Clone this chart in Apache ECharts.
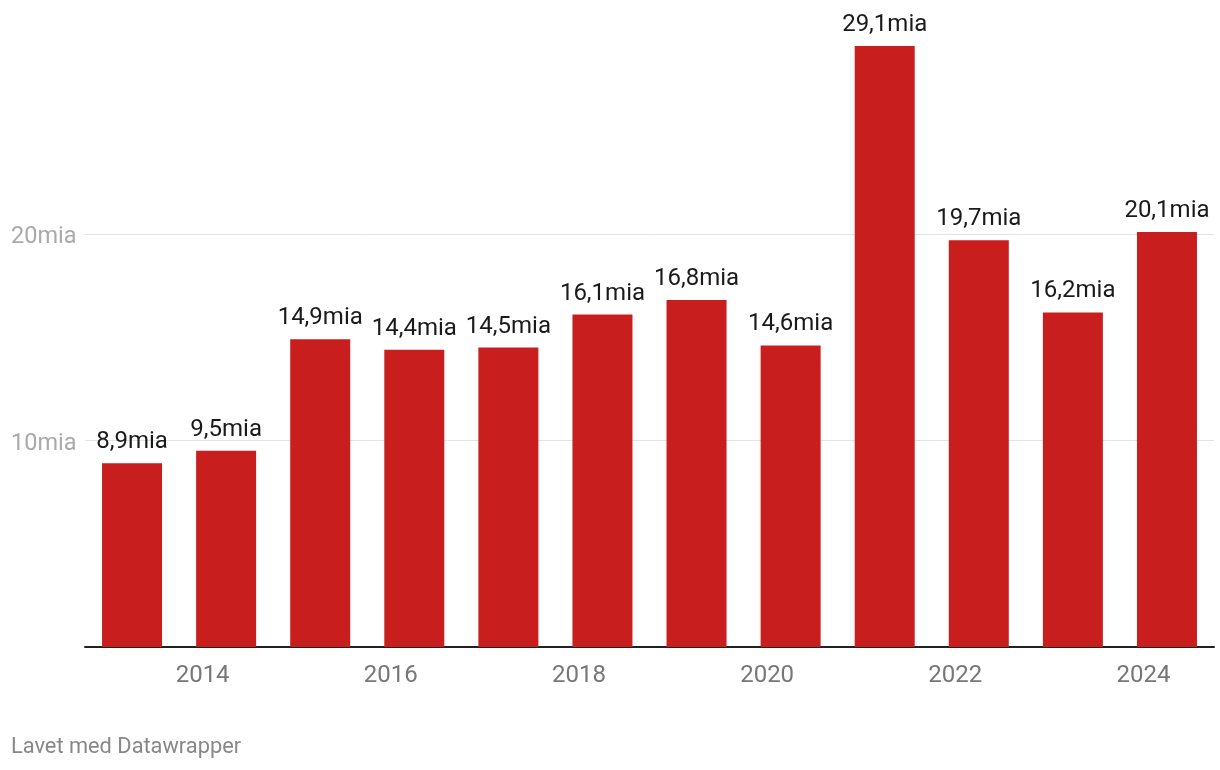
<!DOCTYPE html>
<html>
<head>
<meta charset="utf-8">
<script src="https://cdn.jsdelivr.net/npm/echarts@6/dist/echarts.min.js"></script>
<style>
  html, body { margin: 0; padding: 0; background: #ffffff; }
  #chart { width: 1220px; height: 770px; }
</style>
</head>
<body>
<div id="chart"></div>
<script>
const years = ['2013','2014','2015','2016','2017','2018','2019','2020','2021','2022','2023','2024'];
const values = [8.9, 9.5, 14.9, 14.4, 14.5, 16.1, 16.8, 14.6, 29.1, 19.7, 16.2, 20.1];
const yTicks = [0, 10, 20];
const footer = 'Lavet med Datawrapper';

const fmt = v => String(v).replace('.', ',') + 'mia';

const chart = echarts.init(document.getElementById('chart'), null, { renderer: 'canvas' });
chart.setOption({
  backgroundColor: '#ffffff',
  animation: false,
  textStyle: { fontFamily: 'Roboto' },
  graphic: [{
    type: 'text', left: 11, top: 737,
    style: { text: footer, fontFamily: 'Roboto', fontSize: 21.8, fill: '#888888' }
  }],
  grid: { left: 85, right: 6, top: 37.8, bottom: 123, containLabel: false },
  xAxis: {
    type: 'category',
    data: years,
    boundaryGap: true,
    axisLine: { show: true, lineStyle: { color: '#222222', width: 2 } },
    axisTick: { show: false },
    splitLine: { show: false },
    axisLabel: {
      interval: (i) => i % 2 === 1,
      color: '#777777',
      fontFamily: 'Roboto',
      fontSize: 24,
      margin: 17,
      padding: [0, 47, 0, 0]
    }
  },
  yAxis: {
    type: 'value',
    min: 0,
    max: 29.5,
    interval: 10,
    axisLine: { show: false },
    axisTick: { show: false },
    splitLine: { show: true, showMaxLine: false, lineStyle: { color: '#e3e3e3', width: 1 } },
    axisLabel: {
      align: 'left',
      margin: 74,
      color: '#aaaaaa',
      fontFamily: 'Roboto',
      fontSize: 23.5,
      showMaxLabel: false,
      formatter: v => yTicks.includes(v) && v !== 0 ? '{a|' + v + 'mia}' : '',
      rich: {
        a: { color: '#aaaaaa', fontFamily: 'Roboto', fontSize: 23.5, padding: [7, 0, 0, 0] }
      }
    }
  },
  series: [{
    type: 'bar',
    data: values,
    barWidth: 60,
    itemStyle: { color: '#c91e1e' },
    label: {
      show: true,
      position: 'top',
      distance: 9,
      color: '#1a1a1a',
      fontFamily: 'Roboto',
      fontSize: 24,
      formatter: p => fmt(p.value)
    }
  }]
});
</script>
</body>
</html>
